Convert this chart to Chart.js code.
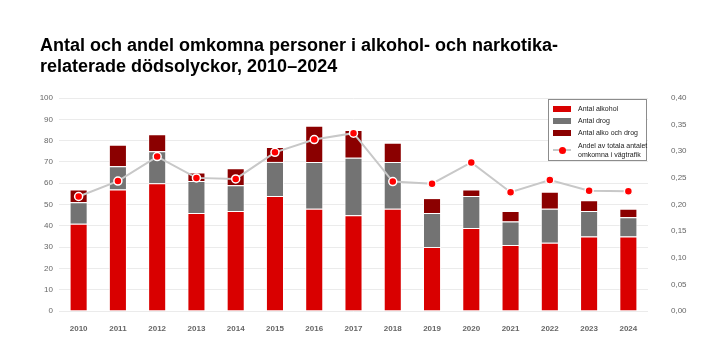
<!DOCTYPE html>
<html>
<head>
<meta charset="utf-8">
<script src="https://cdn.jsdelivr.net/npm/chart.js@4"></script>
<style>
  body { margin: 0; background: #fff; font-family: "Liberation Sans", Arial, sans-serif; }
  #wrap { position: relative; width: 720px; height: 360px; }
  #title { position: absolute; left: 40px; top: 35px; font-size: 18px; font-weight: bold; line-height: 21px; color: #000; white-space: nowrap; }
  #legend { position: absolute; left: 548px; top: 99px; width: 99px; height: 62px; border: 1px solid #8c8c8c; background: #fff; font-size: 7px; color: #222; box-sizing: border-box; }
  .item { position: absolute; left: 4px; white-space: nowrap; line-height: 9px; }
  .sw { position: absolute; left: 0; top: 1.5px; width: 18px; height: 6px; }
  .txt { position: absolute; left: 25px; top: 0; }
</style>
</head>
<body>
<div id="wrap">
  <canvas id="chart" width="720" height="360"></canvas>
  <div id="title">Antal och andel omkomna personer i alkohol- och narkotika-<br>relaterade dödsolyckor, 2010–2024</div>
  <div id="legend"></div>
</div>
<script>
const years = ["2010", "2011", "2012", "2013", "2014", "2015", "2016", "2017", "2018", "2019", "2020", "2021", "2022", "2023", "2024"];
const alkohol = [41, 57, 60, 46, 47, 54, 48, 45, 48, 30, 39, 31, 32, 35, 35];
const drog = [10, 11, 15, 15, 12, 16, 22, 27, 22, 16, 15, 11, 16, 12, 9];
const alkoOchDrog = [6, 10, 8, 4, 8, 7, 17, 13, 9, 7, 3, 5, 8, 5, 4];
const andel = [0.215, 0.244, 0.290, 0.250, 0.248, 0.298, 0.322, 0.334, 0.243, 0.239, 0.279, 0.223, 0.246, 0.226, 0.225];

const seriesNames = ["Antal alkohol", "Antal drog", "Antal alko och drog", "Andel av totala antalet omkomna i vägtrafik"];
const colors = ["#d90000", "#737373", "#8b0000", "#ff0000"];

const tickFont = { family: "Liberation Sans", size: 8 };

function barSet(i, data) {
    return {
        type: 'bar',
        label: seriesNames[i],
        data: data,
        backgroundColor: colors[i],
        borderColor: 'rgba(255, 255, 255, 0.8)',
        borderWidth: 1,
        borderSkipped: 'start',
        barPercentage: 0.46,
        categoryPercentage: 1,
        yAxisID: 'y',
        order: 1
    };
}

const ctx = document.getElementById('chart').getContext('2d');
new Chart(ctx, {
    data: {
        labels: years,
        datasets: [
            {
                type: 'line',
                label: seriesNames[3],
                data: andel,
                yAxisID: 'y1',
                borderColor: '#c8c8c8',
                borderWidth: 2,
                tension: 0,
                pointRadius: 4,
                pointBackgroundColor: colors[3],
                pointBorderColor: '#fff',
                pointBorderWidth: 1.5,
                order: 0
            },
            barSet(0, alkohol),
            barSet(1, drog),
            barSet(2, alkoOchDrog)
        ]
    },
    options: {
        responsive: false,
        animation: false,
        layout: { padding: { top: 98, left: 0, right: 0, bottom: 0 } },
        plugins: {
            legend: { display: false },
            tooltip: { enabled: false }
        },
        scales: {
            x: {
                stacked: true,
                grid: { display: false },
                border: { display: false },
                ticks: { color: '#666', font: { family: "Liberation Sans", size: 8, weight: 'bold' }, padding: 5 },
                afterFit: function(axis) { axis.height = 49; }
            },
            y: {
                stacked: true,
                min: 0,
                max: 100,
                ticks: { stepSize: 10, color: '#666', font: tickFont, padding: 6 },
                grid: { color: '#ebebeb', drawTicks: false },
                border: { display: false },
                afterFit: function(axis) { axis.width = 59; }
            },
            y1: {
                position: 'right',
                min: 0,
                max: 0.4,
                ticks: {
                    stepSize: 0.05,
                    color: '#666',
                    font: tickFont,
                    padding: 15,
                    callback: function(v) { return v.toFixed(2).replace('.', ','); }
                },
                grid: { display: false },
                border: { display: false },
                afterFit: function(axis) { axis.width = 72; }
            }
        }
    }
});

// legend box built from the series names
const legend = document.getElementById('legend');
const rowTops = [4, 16, 28, 41];
seriesNames.forEach(function(name, i) {
    const row = document.createElement('div');
    row.className = 'item';
    row.style.top = rowTops[i] + 'px';
    if (i < 3) {
        row.innerHTML = '<span class="sw" style="background:' + colors[i] + '"></span><span class="txt">' + name + '</span>';
    } else {
        row.innerHTML = '<span style="position:absolute;left:0;top:8px;width:18px;height:1.5px;background:#c8c8c8"></span>' +
            '<span style="position:absolute;left:5.5px;top:5.5px;width:7px;height:7px;border-radius:50%;background:' + colors[3] + '"></span>' +
            '<span class="txt">' + name.replace('antalet ', 'antalet<br>') + '</span>';
    }
    legend.appendChild(row);
});
</script>
</body>
</html>
